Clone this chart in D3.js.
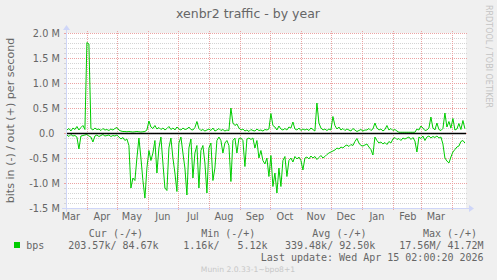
<!DOCTYPE html>
<html>
<head>
<meta charset="utf-8">
<script src="https://cdn.jsdelivr.net/npm/d3@7"></script>
<style>
  body { margin: 0; background: #f0f0f0; }
  svg { display: block; }
  text { font-family: "DejaVu Sans", sans-serif; fill: #666; }
  .mono { font-family: "DejaVu Sans Mono", monospace; white-space: pre; }
</style>
</head>
<body>
<div id="chart"></div>
<script>
// Sampled every 2 days from 2025-03-12, values in kbit/s
const startDate = Date.UTC(2025, 2, 12);
const stepDays = 2;
const outK = [
  60, 90, 40, 100, 70, 130, 60, 110, 150, 70,
  1810, 1780, 90, 60, 100, 70, 80, 50, 90, 60,
  70, 50, 80, 60, 90, 110, 60, 40, 30, 30,
  25, 30, 25, 20, 25, 30, 25, 20, 25, 30,
  60, 240, 120, 90, 150, 80, 110, 70, 100, 60,
  90, 130, 70, 100, 60, 120, 80, 60, 100, 70,
  80, 120, 70, 60, 110, 230, 90, 50, 70, 40,
  60, 80, 50, 100, 40, 60, 90, 50, 70, 40,
  60, 50, 500, 200, 150, 180, 100, 60, 80, 40,
  60, 30, 70, 50, 40, 80, 50, 60, 40, 70,
  60, 80, 390, 150, 120, 60, 140, 80, 60, 90,
  60, 120, 100, 220, 80, 60, 100, 50, 80, 60,
  80, 50, 100, 70, 40, 600, 200, 100, 60, 80,
  50, 80, 60, 330, 150, 80, 120, 60, 90, 50,
  80, 60, 40, 90, 60, 30, 50, 70, 40, 60,
  60, 90, 50, 80, 200, 100, 60, 80, 40, 70,
  150, 60, 90, 50, 70, 40, 15, 15, 15, 15,
  15, 15, 15, 15, 15, 80, 60, 140, 100, 50,
  60, 100, 320, 100, 60, 200, 70, 50, 90, 400,
  120, 230, 100, 290, 60, 80, 190, 70, 250, 85
];
const inK = [
  40, 70, 30, 60, 50, 80, 320, 60, 50, 40,
  30, 60, 80, 180, 60, 40, 70, 50, 30, 60,
  50, 40, 70, 50, 60, 40, 80, 120, 90, 150,
  120, 250, 1100, 900, 950, 500, 100, 500, 950, 1300,
  700, 350, 550, 400, 150, 800, 300, 80, 600, 1100,
  1150, 300, 100, 500, 800, 1170, 200, 80, 400, 700,
  1240, 300, 120, 900, 400, 250, 1100, 350, 250, 600,
  1200, 300, 200, 950, 700, 150, 80, 150, 400, 200,
  150, 250, 970, 150, 100, 400, 110, 100, 150, 670,
  120, 100, 130, 100, 300, 150, 500, 350, 550, 620,
  500, 870, 450, 1070, 800, 1200, 700, 1070, 550, 470,
  870, 550, 500, 580, 470, 520, 480, 550, 740, 500,
  480, 520, 460, 500, 470, 530, 490, 450, 500, 470,
  430, 400, 380, 360, 340, 300, 320, 280, 300, 260,
  240, 270, 230, 250, 170, 110, 200, 250, 260, 240,
  220, 280, 330, 440, 80, 150, 200, 180, 220, 190,
  230, 170, 200, 120, 90, 130, 110, 150, 100, 120,
  100, 80, 130, 90, 160, 380, 80, 110, 60, 150,
  80, 60, 100, 70, 90, 60, 100, 80, 220, 500,
  560, 600, 480, 380, 330, 280, 260, 170, 150, 200
];
const yTicks = [-1.5e6, -1.0e6, -0.5e6, 0, 0.5e6, 1.0e6, 1.5e6, 2.0e6];
const yLabels = ["-1.5 M", "-1.0 M", "-0.5 M", "0.0", "0.5 M", "1.0 M", "1.5 M", "2.0 M"];
const legendHeads = ["Cur (-/+)", "Min (-/+)", "Avg (-/+)", "Max (-/+)"];
const legendVals = ["203.57k/ 84.67k", "1.16k/   5.12k", "339.48k/ 92.50k", "17.56M/ 41.72M"];

const W = 497, H = 280;
const plot = { left: 66, right: 466, top: 33, bottom: 208 };
const green = "#00cc00";
const axisCol = "#cfd6f8";

const svg = d3.select("#chart").append("svg").attr("width", W).attr("height", H);
svg.append("rect").attr("width", W).attr("height", H).attr("fill", "#f0f0f0");

const x = d3.scaleUtc()
  .domain([Date.UTC(2025, 2, 11, 2), Date.UTC(2026, 3, 15, 2)])
  .range([plot.left, plot.right]);
const y = d3.scaleLinear().domain([-1.5e6, 2.0e6]).range([plot.bottom, plot.top]);

// canvas
svg.append("rect")
  .attr("x", plot.left).attr("y", plot.top)
  .attr("width", plot.right - plot.left).attr("height", plot.bottom - plot.top)
  .attr("fill", "#fff");

const grid = svg.append("g");
const snap = (v) => Math.round(v) + 0.5;

// minor horizontal grid every 0.1M
d3.range(-15, 21).filter((k) => k % 5 !== 0).forEach((k) => {
  const yy = snap(y(k * 1e5));
  grid.append("line").attr("x1", plot.left).attr("x2", plot.right + 2)
    .attr("y1", yy).attr("y2", yy)
    .attr("stroke", "#d4d4d4").attr("stroke-dasharray", "1,1");
  grid.append("line").attr("x1", plot.left - 2).attr("x2", plot.left).attr("y1", yy).attr("y2", yy).attr("stroke", "#d4d4d4");
});

// major horizontal grid
yTicks.forEach((v) => {
  const yy = snap(y(v));
  grid.append("line").attr("x1", plot.left).attr("x2", plot.right + 2)
    .attr("y1", yy).attr("y2", yy)
    .attr("stroke", "#eba3a3").attr("stroke-dasharray", "1,1");
  grid.append("line").attr("x1", plot.left - 2).attr("x2", plot.left).attr("y1", yy).attr("y2", yy).attr("stroke", "#eba3a3");
});

// month grid
const months = d3.utcMonth.range(x.domain()[0], x.domain()[1]);
months.forEach((m) => {
  const xx = snap(x(m));
  grid.append("line").attr("x1", xx).attr("x2", xx)
    .attr("y1", plot.top - 2).attr("y2", plot.bottom)
    .attr("stroke", "#eba3a3").attr("stroke-dasharray", "1,1");
  grid.append("line").attr("x1", xx).attr("x2", xx).attr("y1", plot.bottom).attr("y2", plot.bottom + 2).attr("stroke", "#eba3a3");
});

// y tick labels
svg.append("g").selectAll("text").data(yTicks).join("text")
  .attr("x", (d) => (d === 0 ? 54.5 : 59.8))
  .attr("y", (d) => y(d) + 3.6)
  .attr("text-anchor", "end")
  .attr("font-size", 9.72)
  .text((d, i) => yLabels[i]);

// month labels, centred half a month in
const monthLabels = d3.utcMonth.range(d3.utcMonth.floor(x.domain()[0]), x.domain()[1])
  .map((m) => d3.utcDay.offset(m, 15))
  .filter((d) => d >= x.domain()[0] && d <= x.domain()[1]);
svg.append("g").selectAll("text").data(monthLabels).join("text")
  .attr("x", (d) => x(d))
  .attr("y", 220)
  .attr("text-anchor", "middle")
  .attr("font-size", 9.72)
  .text(d3.utcFormat("%b"));

// series
const dates = outK.map((_, i) => new Date(startDate + i * stepDays * 864e5));
const line = d3.line().x((d) => x(d[0])).y((d) => y(d[1]));
svg.append("path")
  .datum(dates.map((d, i) => [d, outK[i] * 1000]))
  .attr("d", line).attr("fill", "none").attr("stroke", green).attr("stroke-width", 1);
svg.append("path")
  .datum(dates.map((d, i) => [d, -inK[i] * 1000]))
  .attr("d", line).attr("fill", "none").attr("stroke", green).attr("stroke-width", 1);

// zero rule
svg.append("line").attr("x1", plot.left).attr("x2", plot.right)
  .attr("y1", y(0) + 0.5).attr("y2", y(0) + 0.5)
  .attr("stroke", "#000").attr("stroke-width", 1.3);

// axes with arrows
const ax = svg.append("g").attr("fill", axisCol).attr("stroke", axisCol);
ax.append("line").attr("x1", plot.left - 4).attr("x2", plot.right + 4)
  .attr("y1", plot.bottom + 0.5).attr("y2", plot.bottom + 0.5);
ax.append("line").attr("x1", plot.left + 0.5).attr("x2", plot.left + 0.5)
  .attr("y1", plot.bottom + 4).attr("y2", plot.top - 4);
ax.append("path").attr("stroke", "none")
  .attr("d", `M${plot.right + 3},${plot.bottom - 3}L${plot.right + 8},${plot.bottom + 0.5}L${plot.right + 3},${plot.bottom + 4}Z`);
ax.append("path").attr("stroke", "none")
  .attr("d", `M${plot.left - 3},${plot.top - 3}L${plot.left + 0.5},${plot.top - 8}L${plot.left + 4},${plot.top - 3}Z`);

// title and labels
svg.append("text").attr("x", 248).attr("y", 18.2).attr("text-anchor", "middle")
  .attr("font-size", 12.5).text("xenbr2 traffic - by year");
svg.append("text")
  .attr("transform", `translate(14,${(plot.top + plot.bottom) / 2}) rotate(-90)`)
  .attr("text-anchor", "middle").attr("font-size", 11.1)
  .text("bits in (-) / out (+) per second");
svg.append("text")
  .attr("transform", "translate(485.5,56.5) rotate(90)")
  .attr("text-anchor", "middle").attr("font-size", 8).style("fill", "#c4c4c4")
  .text("RRDTOOL / TOBI OETIKER");

// legend
const headX = [88.8, 201.2, 312.3, 422.9];
const valEnd = [158.6, 267.6, 375.3, 483.6];
svg.append("g").selectAll("text").data(legendHeads).join("text")
  .attr("class", "mono").attr("x", (d, i) => headX[i]).attr("y", 237)
  .attr("font-size", 10).text((d) => d);
svg.append("rect").attr("x", 14).attr("y", 242).attr("width", 6).attr("height", 6).attr("fill", green);
svg.append("text").attr("class", "mono").attr("x", 26.3).attr("y", 249)
  .attr("font-size", 10).text("bps");
svg.append("g").selectAll("text").data(legendVals).join("text")
  .attr("class", "mono").attr("x", (d, i) => valEnd[i]).attr("y", 249)
  .attr("text-anchor", "end").attr("font-size", 10).text((d) => d);
svg.append("text").attr("class", "mono").attr("x", 483.6).attr("y", 261)
  .attr("text-anchor", "end").attr("font-size", 10)
  .text("Last update: Wed Apr 15 02:00:20 2026");
svg.append("text").attr("x", 248).attr("y", 272).attr("text-anchor", "middle")
  .attr("font-size", 7.64).style("fill", "#c8c8c8")
  .text("Munin 2.0.33-1~bpo8+1");
</script>
</body>
</html>
